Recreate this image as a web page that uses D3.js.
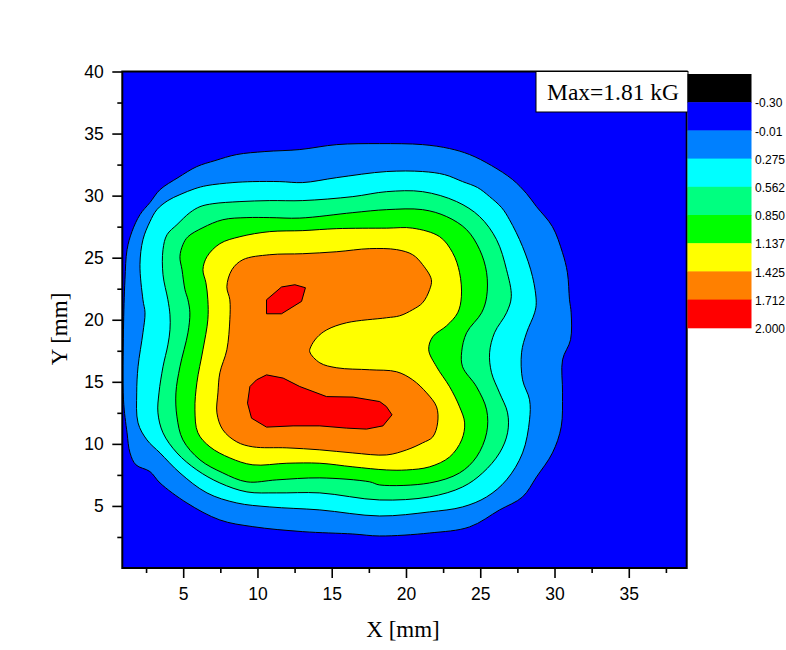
<!DOCTYPE html>
<html>
<head>
<meta charset="utf-8">
<script src="https://cdn.jsdelivr.net/npm/d3@7"></script>
<style>
  html, body { margin: 0; padding: 0; background: #fff; overflow: hidden; }
  svg { display: block; }
</style>
</head>
<body>
<div id="chart"></div>
<script>
"use strict";

/*
 * ============================================================================
 * Data
 * ============================================================================
 */

// colour scale: label sits at the lower edge of each block
const levelLabels = ["-0.30", "-0.01", "0.275", "0.562", "0.850", "1.137", "1.425", "1.712", "2.000"];
const levelColors = ["#000000", "#0000ff", "#0080ff", "#00ffff", "#00ff80", "#00ff00", "#ffff00", "#ff8000", "#ff0000"];

const xMajor = [5, 10, 15, 20, 25, 30, 35];
const xMinor = [2.5, 7.5, 12.5, 17.5, 22.5, 27.5, 32.5, 37.5];
const yMajor = [5, 10, 15, 20, 25, 30, 35, 40];
const yMinor = [2.5, 7.5, 12.5, 17.5, 22.5, 27.5, 32.5, 37.5];

const maxLabel = "Max=1.81 kG";

// contour outlines, [X mm, Y mm]
const azureOutline = [
    [0.98, 13.55], [0.98, 19.19], [1.08, 23.23], [1.22, 25.65], [1.55, 27.10], [2.09, 28.47],
    [2.76, 29.44], [3.44, 30.48], [4.65, 31.45], [5.92, 32.34], [7.14, 32.82], [8.61, 33.31],
    [10.50, 33.55], [12.85, 33.71], [15.34, 34.11], [18.23, 34.19], [21.12, 34.11], [22.94, 33.79],
    [24.28, 33.31], [25.76, 32.42], [27.18, 31.29], [28.12, 30.16], [28.79, 29.11], [29.86, 27.50],
    [30.54, 25.40], [30.87, 23.79], [31.01, 21.61], [31.12, 20.56], [31.08, 18.39], [30.54, 16.77],
    [30.54, 14.11], [30.45, 11.37], [29.86, 9.27], [28.79, 7.34], [27.85, 5.73], [26.30, 4.68],
    [24.28, 3.31], [21.59, 2.82], [18.23, 2.58], [16.42, 2.74], [13.05, 2.93], [9.69, 3.33],
    [7.47, 3.87], [5.25, 5.24], [3.44, 6.85], [2.76, 7.77], [1.82, 8.31], [1.42, 9.27], [1.22, 10.89]
];
const cyanOutline = [
    [2.29, 21.61], [2.09, 24.44], [2.29, 26.45], [2.76, 27.90], [3.23, 28.87], [3.97, 29.60],
    [4.78, 30.08], [5.79, 30.56], [6.60, 30.81], [8.35, 31.05], [9.69, 31.13], [11.51, 31.13],
    [13.05, 31.05], [15.34, 31.45], [18.70, 31.94], [21.12, 31.94], [22.60, 31.69], [23.81, 31.13],
    [24.82, 30.65], [25.63, 29.92], [26.44, 29.03], [26.97, 28.06], [27.85, 25.89], [28.52, 23.47],
    [28.77, 21.37], [28.66, 20.56], [28.12, 18.95], [27.78, 17.34], [27.85, 15.16], [28.32, 13.55],
    [28.32, 11.94], [27.85, 9.27], [26.77, 7.10], [25.43, 5.73], [23.81, 4.92], [21.59, 4.52],
    [18.23, 4.19], [14.20, 4.68], [10.83, 4.92], [8.61, 5.24], [6.60, 6.05], [4.78, 7.66],
    [3.44, 9.27], [2.56, 10.32], [1.96, 11.69], [1.87, 14.11], [1.96, 16.21], [2.29, 18.95], [2.43, 20.56]
];
const springOutline = [
    [3.97, 21.61], [3.64, 23.63], [3.64, 25.65], [3.91, 26.85], [4.58, 27.66], [5.45, 28.63],
    [6.13, 29.11], [7.00, 29.35], [8.82, 29.52], [10.83, 29.60], [13.05, 29.60], [16.42, 29.92],
    [18.70, 30.32], [21.12, 30.32], [23.41, 29.52], [24.96, 28.31], [26.10, 26.45], [26.77, 24.03],
    [27.09, 21.85], [26.77, 20.56], [25.96, 18.95], [25.63, 17.34], [25.76, 15.73], [26.30, 14.11],
    [26.84, 12.50], [26.84, 10.89], [26.30, 9.27], [25.16, 7.66], [23.81, 6.53], [21.59, 5.73],
    [18.23, 5.48], [14.20, 6.05], [11.30, 6.05], [9.29, 6.13], [7.47, 6.85], [5.92, 7.90],
    [4.58, 9.27], [3.64, 10.89], [3.30, 12.50], [3.37, 14.11], [3.64, 16.21], [3.97, 17.98],
    [4.11, 19.19], [4.11, 20.40]
];
const greenOutline = [
    [5.32, 21.61], [5.12, 22.42], [4.92, 24.03], [4.78, 25.08], [4.98, 26.05], [5.32, 26.69],
    [6.33, 27.42], [7.67, 28.06], [9.29, 28.23], [10.83, 28.23], [12.85, 28.19], [16.42, 28.63],
    [18.70, 28.87], [21.12, 28.87], [22.74, 28.31], [24.08, 27.26], [24.96, 25.65], [25.43, 23.79],
    [25.43, 21.85], [25.09, 20.56], [24.08, 18.95], [23.75, 17.42], [23.81, 16.21], [24.75, 14.60],
    [25.43, 12.74], [25.43, 10.89], [24.75, 8.95], [23.61, 7.66], [21.59, 6.85], [18.23, 6.69],
    [17.56, 6.94], [14.20, 7.26], [11.30, 7.10], [9.29, 6.94], [7.67, 7.66], [6.13, 8.71],
    [4.98, 10.32], [4.58, 12.18], [4.51, 14.11], [4.78, 16.21], [5.32, 18.95], [5.45, 20.56]
];
const yellowOutline = [
    [6.66, 21.61], [6.53, 22.98], [6.33, 24.03], [6.60, 25.08], [7.47, 26.13], [8.82, 26.69],
    [10.83, 27.10], [13.05, 27.18], [15.34, 27.34], [18.70, 27.38], [20.45, 27.38], [22.27, 26.69],
    [23.14, 25.40], [23.61, 23.79], [23.73, 21.85], [23.48, 20.56], [22.74, 19.52], [21.80, 18.63],
    [21.53, 17.58], [22.06, 16.21], [22.94, 14.60], [23.61, 12.98], [23.95, 11.69], [23.75, 10.32],
    [22.94, 8.95], [21.59, 8.15], [20.05, 7.90], [18.70, 7.90], [16.42, 8.15], [14.20, 8.44],
    [11.98, 8.44], [9.69, 8.31], [8.14, 8.87], [6.80, 9.76], [5.99, 10.89], [5.79, 12.74],
    [5.92, 14.92], [6.33, 17.58], [6.66, 20.00]
];
const orangeOutline = [
    [8.14, 21.61], [7.94, 22.66], [8.28, 24.03], [9.02, 24.84], [10.83, 25.24], [13.05, 25.32],
    [15.34, 25.48], [17.56, 25.73], [19.37, 25.65], [20.45, 25.24], [21.12, 24.44], [21.71, 23.23],
    [21.59, 22.42], [21.12, 21.37], [20.45, 20.81], [19.58, 20.32], [18.70, 20.16], [16.01, 19.76],
    [14.67, 19.19], [13.99, 18.55], [13.59, 17.82], [13.52, 17.42], [14.20, 16.53], [15.34, 16.13],
    [17.56, 15.97], [19.37, 15.81], [20.45, 15.16], [21.39, 14.11], [22.06, 12.98], [22.13, 11.69],
    [21.80, 10.56], [21.12, 10.08], [20.05, 9.52], [18.70, 9.11], [16.42, 9.27], [14.20, 9.52],
    [11.98, 9.68], [9.69, 9.76], [8.61, 10.16], [7.67, 11.13], [7.27, 12.50], [7.34, 14.11],
    [7.47, 15.73], [7.94, 17.58], [8.14, 20.00]
];
const redUpperOutline = [
    [10.61, 21.61], [11.62, 22.64], [12.52, 22.82], [13.23, 22.58], [12.97, 21.48],
    [11.62, 20.48], [10.61, 20.48]
];
const redLowerOutline = [
    [9.94, 15.16], [10.61, 15.56], [11.73, 15.30], [12.85, 14.62], [14.65, 13.81], [16.44, 13.77],
    [18.23, 13.41], [18.68, 13.01], [19.06, 12.34], [18.45, 11.45], [17.34, 11.19], [15.99, 11.27],
    [14.20, 11.45], [12.40, 11.45], [10.61, 11.35], [9.60, 12.07], [9.33, 13.28], [9.49, 14.62]
];


/*
 * ============================================================================
 * Plot
 * ============================================================================
 */

const WIDTH = 786;
const HEIGHT = 650;
const LEFT = 122.3, RIGHT = 686.7, TOP = 71.5, BOTTOM = 568;
const SANS = "Arial, 'Liberation Sans', sans-serif";
const SERIF = "'Times New Roman', 'Liberation Serif', serif";

const svg = d3.select("#chart")
  .append("svg")
    .attr("width", WIDTH)
    .attr("height", HEIGHT);

const xscale = d3.scaleLinear().domain([0.9, 38.9]).range([LEFT, RIGHT]);
const yscale = d3.scaleLinear().domain([0, 40]).range([BOTTOM, TOP]);

svg.append("clipPath")
    .attr("id", "plot-clip")
  .append("rect")
    .attr("x", LEFT).attr("y", TOP)
    .attr("width", RIGHT - LEFT).attr("height", BOTTOM - TOP);

// background level
const area = svg.append("g").attr("clip-path", "url(#plot-clip)");
area.append("rect")
    .attr("x", LEFT).attr("y", TOP)
    .attr("width", RIGHT - LEFT).attr("height", BOTTOM - TOP)
    .attr("fill", levelColors[1]);

const bands = [
    { pts: azureOutline, color: levelColors[2], smooth: true },
    { pts: cyanOutline, color: levelColors[3], smooth: true },
    { pts: springOutline, color: levelColors[4], smooth: true },
    { pts: greenOutline, color: levelColors[5], smooth: true },
    { pts: yellowOutline, color: levelColors[6], smooth: true },
    { pts: orangeOutline, color: levelColors[7], smooth: true },
    { pts: redUpperOutline, color: levelColors[8], smooth: false },
    { pts: redLowerOutline, color: levelColors[8], smooth: false },
];

const smoothLine = d3.line()
    .x(d => xscale(d[0]))
    .y(d => yscale(d[1]))
    .curve(d3.curveCatmullRomClosed.alpha(0.5));
const sharpLine = d3.line()
    .x(d => xscale(d[0]))
    .y(d => yscale(d[1]))
    .curve(d3.curveLinearClosed);

area.selectAll(".band")
    .data(bands)
  .enter().append("path")
    .attr("class", "band")
    .attr("d", d => (d.smooth ? smoothLine : sharpLine)(d.pts))
    .attr("fill", d => d.color)
    .attr("stroke", "#000")
    .attr("stroke-width", 1)
    .attr("stroke-linejoin", "round");

// axes
function styleAxis(g) {
    g.attr("font-family", SANS).attr("font-size", 17.5);
    g.selectAll("line").attr("stroke", "#000").attr("stroke-width", 1.6);
    g.selectAll("text").attr("fill", "#000");
}

svg.append("g")
    .attr("transform", `translate(0,${BOTTOM})`)
    .call(d3.axisBottom(xscale).tickValues(xMinor).tickSize(5).tickSizeOuter(0).tickFormat(""))
    .call(g => g.select(".domain").remove())
    .call(styleAxis);
svg.append("g")
    .attr("transform", `translate(0,${BOTTOM})`)
    .call(d3.axisBottom(xscale).tickValues(xMajor).tickSize(10).tickSizeOuter(0).tickPadding(9.5))
    .call(g => g.select(".domain").remove())
    .call(styleAxis);

svg.append("g")
    .attr("transform", `translate(${LEFT},0)`)
    .call(d3.axisLeft(yscale).tickValues(yMinor).tickSize(5).tickSizeOuter(0).tickFormat(""))
    .call(g => g.select(".domain").remove())
    .call(styleAxis);
svg.append("g")
    .attr("transform", `translate(${LEFT},0)`)
    .call(d3.axisLeft(yscale).tickValues(yMajor).tickSize(10).tickSizeOuter(0).tickPadding(8.5))
    .call(g => g.select(".domain").remove())
    .call(styleAxis);

// frame
svg.append("rect")
    .attr("x", LEFT).attr("y", TOP)
    .attr("width", RIGHT - LEFT).attr("height", BOTTOM - TOP)
    .attr("fill", "none")
    .attr("stroke", "#000")
    .attr("stroke-width", 2);

// axis titles
svg.append("text")
    .attr("x", 403).attr("y", 637)
    .attr("text-anchor", "middle")
    .attr("font-family", SERIF).attr("font-size", 23)
    .text("X [mm]");
svg.append("text")
    .attr("transform", "translate(67,329) rotate(-90)")
    .attr("text-anchor", "middle")
    .attr("font-family", SERIF).attr("font-size", 23)
    .text("Y [mm]");

// max annotation
svg.append("rect")
    .attr("x", 536).attr("y", TOP)
    .attr("width", 152).attr("height", 40.5)
    .attr("fill", "#fff")
    .attr("stroke", "#000")
    .attr("stroke-width", 1);
svg.append("text")
    .attr("x", 547).attr("y", 100)
    .attr("font-family", SERIF).attr("font-size", 23.5)
    .text(maxLabel);

// colour scale
const LEG_X = 687.5, LEG_Y = 74, LEG_W = 64, LEG_H = 28.2;
const legend = svg.append("g");
legend.selectAll("rect")
    .data(levelColors)
  .enter().append("rect")
    .attr("x", LEG_X)
    .attr("y", (d, i) => LEG_Y + i * LEG_H)
    .attr("width", LEG_W)
    .attr("height", LEG_H + 0.5)
    .attr("fill", d => d);
legend.selectAll("text")
    .data(levelLabels)
  .enter().append("text")
    .attr("x", LEG_X + LEG_W + 3.5)
    .attr("y", (d, i) => LEG_Y + (i + 1) * LEG_H + 1)
    .attr("dy", "0.35em")
    .attr("font-family", SANS).attr("font-size", 12)
    .text(d => d);
</script>
</body>
</html>
